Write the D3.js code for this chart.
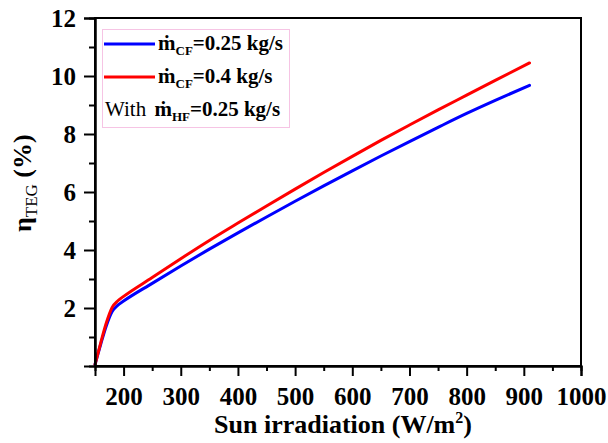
<!DOCTYPE html>
<html>
<head>
<meta charset="utf-8">
<script src="https://cdn.jsdelivr.net/npm/d3@7"></script>
<style>
  html, body { margin: 0; padding: 0; background: #fff; }
  svg { display: block; }
  text { font-family: "Liberation Serif", "Tinos", "DejaVu Serif", serif; }
</style>
</head>
<body>
<svg id="chart" width="608" height="443"></svg>
<script>
// Solar irradiation (W/m^2) sampled for both cold-fluid flow rates
const irradiation = [150, 160, 170, 180, 190, 200, 250, 300, 350, 400, 450, 500, 550, 600, 650, 700, 750, 800, 850, 910];
// TEG efficiency (%) at m_CF = 0.25 kg/s
const etaCF025 = [0.05, 0.75, 1.4, 1.88, 2.1, 2.24, 2.85, 3.45, 4.03, 4.59, 5.14, 5.68, 6.21, 6.73, 7.24, 7.74, 8.23, 8.71, 9.16, 9.68];
// TEG efficiency (%) at m_CF = 0.4 kg/s
const etaCF04 = [0.05, 0.8, 1.5, 2.02, 2.25, 2.4, 3.05, 3.7, 4.33, 4.93, 5.52, 6.1, 6.67, 7.23, 7.78, 8.31, 8.83, 9.34, 9.85, 10.45];

const xTicks = [200, 300, 400, 500, 600, 700, 800, 900, 1000];
const xMinorTicks = [250, 350, 450, 550, 650, 750, 850, 950];
const yTicks = [2, 4, 6, 8, 10, 12];
const yMinorTicks = [1, 3, 5, 7, 9, 11];

const series = [
  { name: "CF", flow: "0.25", values: etaCF025, color: "#0000ff" },
  { name: "CF", flow: "0.4", values: etaCF04, color: "#ff0000" }
];

const FONT = '"Liberation Serif", "Tinos", "DejaVu Serif", serif';
const svg = d3.select("#chart");
const margin = { left: 95, right: 27, top: 18, bottom: 77 };
const W = 608, H = 443;

const x = d3.scaleLinear().domain([150, 1000]).range([margin.left, W - margin.right]);
const y = d3.scaleLinear().domain([0, 12]).range([H - margin.bottom, margin.top]);

// curves
const line = d3.line()
  .x((d, i) => x(irradiation[i]))
  .y(d => y(d))
  .curve(d3.curveMonotoneX);

series.forEach(s => {
  svg.append("path")
    .datum(s.values)
    .attr("fill", "none")
    .attr("stroke", s.color)
    .attr("stroke-width", 3)
    .attr("stroke-linejoin", "round")
    .attr("stroke-linecap", "round")
    .attr("d", line);
});

// frame
svg.append("rect")
  .attr("x", x.range()[0]).attr("y", y.range()[1])
  .attr("width", x.range()[1] - x.range()[0])
  .attr("height", y.range()[0] - y.range()[1])
  .attr("fill", "none").attr("stroke", "#000").attr("stroke-width", 2);

// x axis
svg.append("g")
  .attr("transform", `translate(0,${y.range()[0]})`)
  .call(d3.axisBottom(x).tickValues(xTicks).tickSize(10).tickPadding(11).tickFormat(d3.format("d")));
svg.append("g")
  .attr("transform", `translate(0,${y.range()[0]})`)
  .call(d3.axisBottom(x).tickValues(xMinorTicks).tickSize(5).tickFormat(""));

// y axis
svg.append("g")
  .attr("transform", `translate(${x.range()[0]},0)`)
  .call(d3.axisLeft(y).tickValues(yTicks).tickSize(11).tickPadding(8).tickFormat(d3.format("d")));
svg.append("g")
  .attr("transform", `translate(${x.range()[0]},0)`)
  .call(d3.axisLeft(y).tickValues(yMinorTicks).tickSize(6).tickFormat(""));

svg.selectAll("g").attr("font-family", null);
svg.selectAll(".domain").attr("stroke", "#000").attr("stroke-width", 2);
svg.selectAll(".tick line").attr("stroke", "#000").attr("stroke-width", 2);
svg.selectAll(".tick text")
  .attr("fill", "#000")
  .style("font-family", FONT)
  .style("font-weight", "bold")
  .style("font-size", "25px");

// axis titles
const xt = svg.append("text")
  .attr("x", (x.range()[0] + x.range()[1]) / 2 + 5)
  .attr("y", 433)
  .attr("text-anchor", "middle")
  .style("font-weight", "bold")
  .style("font-size", "26px");
xt.append("tspan").text("Sun irradiation (W/m");
xt.append("tspan").attr("dy", -10).style("font-size", "16px").text("2");
xt.append("tspan").attr("dy", 10).text(")");

const yt = svg.append("text")
  .attr("transform", "translate(31,232) rotate(-90)")
  .attr("text-anchor", "start")
  .style("font-weight", "bold")
  .style("font-size", "26px");
yt.append("tspan").text("η");
yt.append("tspan").attr("dy", 6).style("font-size", "17px").style("font-weight", "normal").text("TEG");
yt.append("tspan").attr("dy", -6).text(" (%)");

// legend
const lg = svg.append("g");
lg.append("rect")
  .attr("x", 102.5).attr("y", 29.5).attr("width", 187).attr("height", 98)
  .attr("fill", "#fff").attr("stroke", "#f6c4e4").attr("stroke-width", 1);

series.forEach((s, i) => {
  const cy = 44 + i * 33;
  lg.append("line")
    .attr("x1", 104).attr("x2", 155).attr("y1", cy).attr("y2", cy)
    .attr("stroke", s.color).attr("stroke-width", 3);
  const t = lg.append("text")
    .attr("x", 158).attr("y", cy + 6)
    .style("font-weight", "bold").style("font-size", "21px");
  t.append("tspan").text("ṁ");
  t.append("tspan").attr("dy", 5).style("font-size", "13px").text(s.name);
  t.append("tspan").attr("dy", -5).text(`=${s.flow} kg/s`);
});

const t3 = lg.append("text")
  .attr("x", 105).attr("y", 116)
  .style("font-size", "21px");
t3.append("tspan").style("word-spacing", "3px").text("With ");
t3.append("tspan").style("font-weight", "bold").text("ṁ");
t3.append("tspan").attr("dy", 5).style("font-size", "13px").style("font-weight", "bold").text("HF");
t3.append("tspan").attr("dy", -5).style("font-weight", "bold").text("=0.25 kg/s");
</script>
</body>
</html>
